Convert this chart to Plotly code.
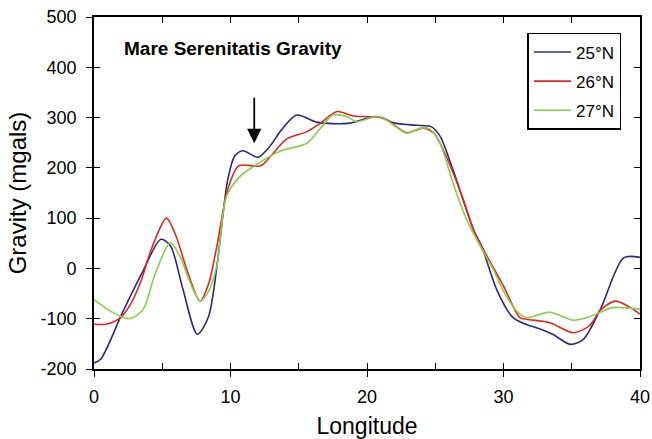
import plotly.graph_objects as go

lon_25 = [0, 0.5, 2.1, 3.5, 4.9, 5.6, 6.5, 7.57, 8.4, 9.8, 10.3, 10.9, 12.0, 12.8, 13.75, 14.85, 16.3, 17.5, 18.75, 20.7, 21.9, 23.0, 24.1, 24.7, 25.35, 26.3, 27.8, 28.4, 29.5, 30.7, 31.9, 32.2, 33.6, 34.9, 35.85, 37.1, 38.8, 40]
g_25 = [-188, -180, -87, -10, 58, 45, -40, -131, -95, 177, 223, 234, 221, 240, 276, 305, 291, 288, 289, 302, 290, 286, 284, 282, 263, 196, 77, 44, -42, -98, -114, -116, -131, -151, -141, -81, 21, 22]

lon_26 = [0, 0.9, 1.8, 2.6, 3.4, 4.2, 5.3, 6.0, 6.8, 7.77, 8.4, 9.0, 9.8, 10.6, 12.2, 13.0, 14.1, 15.6, 16.6, 17.8, 19.0, 19.7, 21.2, 22.9, 24.1, 24.9, 25.8, 27.05, 27.8, 28.4, 30.0, 31.2, 31.7, 33.4, 35.1, 36.3, 37.1, 38.2, 39.3, 40]
g_26 = [-111, -111, -101, -75, -28, 38, 100, 65, -2, -65, -30, 44, 157, 204, 204, 225, 257, 272, 289, 312, 303, 302, 299, 270, 279, 269, 223, 137, 77, 44, -35, -98, -101, -108, -128, -114, -83, -65, -78, -91]

lon_27 = [0, 1.2, 2.6, 3.6, 4.5, 5.6, 6.3, 7.0, 7.77, 8.4, 9.0, 9.7, 10.7, 11.7, 13.6, 15.6, 16.6, 17.5, 18.5, 19.25, 20.9, 22.9, 23.9, 24.6, 25.35, 26.3, 27.3, 28.3, 29.25, 30.2, 31.2, 31.7, 33.4, 35.1, 36.1, 37.1, 38.0, 40]
g_27 = [-62, -85, -100, -81, -9, 51, 24, -25, -65, -45, 5, 143, 183, 203, 233, 249, 279, 305, 302, 292, 302, 269, 279, 277, 249, 170, 97, 44, -2, -55, -91, -98, -87, -103, -98, -87, -78, -81]

series_names = ["25°N", "26°N", "27°N"]
series_colors = ["#2a2a86", "#e8251e", "#86d04a"]

x_ticks = [0, 10, 20, 30, 40]
x_tick_labels = ["0", "10", "20", "30", "40"]
y_ticks = [-200, -100, 0, 100, 200, 300, 400, 500]
y_tick_labels = ["-200", "-100", "0", "100", "200", "300", "400", "500"]

FONT = "Liberation Sans, Arial, sans-serif"

fig = go.Figure()
for i, (xs, ys) in enumerate([(lon_25, g_25), (lon_26, g_26), (lon_27, g_27)]):
    fig.add_trace(go.Scatter(
        x=xs, y=ys, mode="lines", name=series_names[i],
        line=dict(color=series_colors[i], width=1.6, shape="spline", smoothing=0.8),
        legendgroup=str(i),
    ))

# invisible trace to host the overlay axes (inside ticks)
fig.add_trace(go.Scatter(x=[None], y=[None], xaxis="x2", yaxis="y2", showlegend=False, hoverinfo="skip"))

axis_common = dict(showgrid=False, zeroline=False, linecolor="black", linewidth=1.6,
                   tickcolor="black", tickwidth=1.4, automargin=False)

fig.update_layout(
    width=652, height=439,
    margin=dict(l=94, r=12, t=17, b=70),
    paper_bgcolor="white", plot_bgcolor="white",
    font=dict(family=FONT, color="black"),
    showlegend=True,
    xaxis=dict(range=[0, 40], tickvals=x_ticks, ticktext=x_tick_labels, ticks="outside", ticklen=6,
               tickfont=dict(size=18), ticklabelstandoff=5, ticklabeloverflow="allow",
               title=dict(text="Longitude", font=dict(size=23), standoff=12),
               **axis_common),
    yaxis=dict(range=[-200, 500], tickvals=y_ticks, ticktext=y_tick_labels, ticks="outside", ticklen=6,
               tickfont=dict(size=18), ticklabelstandoff=6, ticklabeloverflow="allow",
               title=dict(text="Gravity (mgals)", font=dict(size=24), standoff=7),
               **axis_common),
    xaxis2=dict(range=[0, 40], dtick=5, tick0=0, ticks="inside", ticklen=6, overlaying="x",
                side="bottom", mirror="ticks", showticklabels=False, showline=True, **axis_common),
    yaxis2=dict(range=[-200, 500], dtick=100, tick0=0, ticks="inside", ticklen=6, overlaying="y",
                side="left", mirror="ticks", showticklabels=False, showline=True, **axis_common),
    legend=dict(x=0.966, y=0.955, xanchor="right", yanchor="top",
                bgcolor="white", bordercolor="black", borderwidth=1.6,
                font=dict(size=17, family=FONT), itemwidth=37,
                tracegroupgap=4, traceorder="grouped"),
    annotations=[
        dict(x=2.05, y=438, xref="x", yref="y", text="<b>Mare Serenitatis Gravity</b>",
             showarrow=False, xanchor="left", yanchor="middle", font=dict(size=19, family=FONT)),
        dict(x=11.74, y=249, xref="x", yref="y", text="", showarrow=True,
             ax=0, ay=-47, arrowhead=2, arrowsize=1.6, arrowwidth=1.8, arrowcolor="black"),
    ],
)

# remove the default page margin so the figure fills the window exactly
fig.write_html("out.html", config={"displayModeBar": False},
               post_script="document.body.style.margin='0px';document.body.style.overflow='hidden';")
